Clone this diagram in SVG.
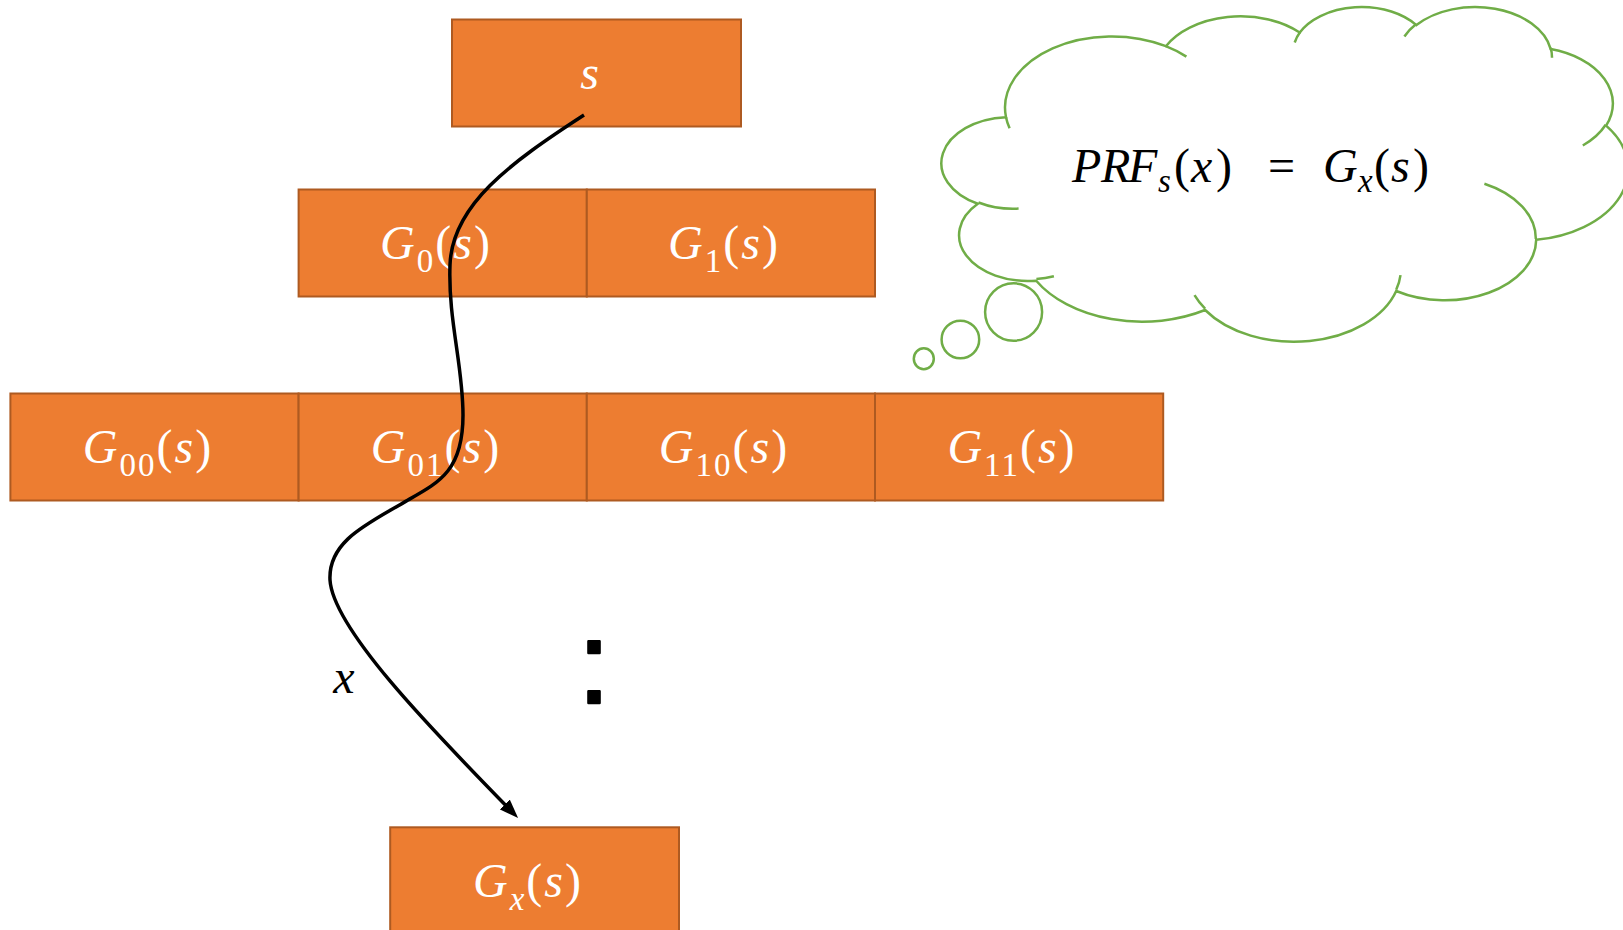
<svg xmlns="http://www.w3.org/2000/svg" width="1623" height="930" viewBox="0 0 1623 930">
  <style>
    .box { fill: #ED7D31; stroke: #AE5A21; stroke-width: 2; }
    .lbl { font-family: "Liberation Serif", serif; font-size: 48px; fill: #FFFFFF; text-anchor: middle; letter-spacing: 2px; }
    .eq { font-family: "Liberation Serif", serif; font-size: 48px; fill: #000000; }
    .it { font-style: italic; }
    .sub { font-size: 33px; }
    .cloud { fill: #FFFFFF; stroke: #70AD47; stroke-width: 2.5; }
    .wrinkle { fill: none; stroke: #70AD47; stroke-width: 2.5; }
    .flow { fill: none; stroke: #000000; stroke-width: 3.5; }
  </style>
  <defs>
    <marker id="arrow" markerUnits="userSpaceOnUse" markerWidth="19" markerHeight="14" refX="10" refY="7" orient="auto">
      <path d="M0,0 L19,7 L0,14 Z" fill="#000000"/>
    </marker>
  </defs>

  <!-- seed -->
  <g id="n-s">
    <rect class="box" x="452" y="19.5" width="289" height="107"/>
    <text class="lbl it" x="590.5" y="89">s</text>
  </g>

  <!-- first level -->
  <g id="n-g0">
    <rect class="box" x="298.6" y="189.5" width="288.2" height="107"/>
    <text class="lbl" x="436" y="259"><tspan class="it">G</tspan><tspan class="sub" dy="13">0</tspan><tspan dy="-13">(</tspan><tspan class="it">s</tspan>)</text>
  </g>
  <g id="n-g1">
    <rect class="box" x="586.8" y="189.5" width="288.2" height="107"/>
    <text class="lbl" x="724" y="259"><tspan class="it">G</tspan><tspan class="sub" dy="13">1</tspan><tspan dy="-13">(</tspan><tspan class="it">s</tspan>)</text>
  </g>

  <!-- second level -->
  <g id="n-g00">
    <rect class="box" x="10.4" y="393.5" width="288.2" height="107"/>
    <text class="lbl" x="148" y="463"><tspan class="it">G</tspan><tspan class="sub" dy="13">00</tspan><tspan dy="-13">(</tspan><tspan class="it">s</tspan>)</text>
  </g>
  <g id="n-g01">
    <rect class="box" x="298.6" y="393.5" width="288.2" height="107"/>
    <text class="lbl" x="436" y="463"><tspan class="it">G</tspan><tspan class="sub" dy="13">01</tspan><tspan dy="-13">(</tspan><tspan class="it">s</tspan>)</text>
  </g>
  <g id="n-g10">
    <rect class="box" x="586.8" y="393.5" width="288.2" height="107"/>
    <text class="lbl" x="724" y="463"><tspan class="it">G</tspan><tspan class="sub" dy="13">10</tspan><tspan dy="-13">(</tspan><tspan class="it">s</tspan>)</text>
  </g>
  <g id="n-g11">
    <rect class="box" x="875" y="393.5" width="288.2" height="107"/>
    <text class="lbl" x="1012" y="463"><tspan class="it">G</tspan><tspan class="sub" dy="13">11</tspan><tspan dy="-13">(</tspan><tspan class="it">s</tspan>)</text>
  </g>

  <!-- leaf -->
  <g id="n-gx">
    <rect class="box" x="390.2" y="827.3" width="288.8" height="107"/>
    <text class="lbl" x="528" y="897"><tspan class="it">G</tspan><tspan class="sub it" dy="13">x</tspan><tspan dy="-13">(</tspan><tspan class="it">s</tspan>)</text>
  </g>

  <!-- vertical ellipsis -->
  <g id="ellipsis">
    <text x="594" y="703" font-family="Liberation Sans, Arial, sans-serif" font-size="117" text-anchor="middle" fill="#000000" stroke="#000000" stroke-width="2.5" stroke-linejoin="round">:</text>
  </g>

  <!-- path taken by the input bits -->
  <g id="connectors">
    <path class="flow" marker-end="url(#arrow)"
          d="M584,115 C510,163 452,205 450,265 C448,320 463,365 463,415 C463,470 440,482 408,500 C370,523 328,540 330,580 C333,628 428,726 511.8,811.6"/>
    <text class="eq it" x="344" y="693" text-anchor="middle">x</text>
  </g>

  <!-- thought bubble -->
  <g id="thought">
    <path class="cloud" d="M1006,117.2
      A106.86,71.18 0 0 1 1165.9,46.2
      A84.39,56.28 0 0 1 1299.7,32.5
      A69.07,46.04 0 0 1 1416.4,25.1
      A76.86,51.08 0 0 1 1550.7,49.1
      A84.39,56.33 0 0 1 1606.1,125.6
      A107.21,71.41 0 0 1 1536.2,239.8
      A91.54,60.93 0 0 1 1396.2,291
      A106.84,71.37 0 0 1 1205.1,310
      A122.16,81.66 0 0 1 1036.2,280.7
      A68.99,45.83 0 0 1 977.8,203.8
      A68.76,46.04 0 0 1 1006,117.2 Z"/>
    <path class="wrinkle" d="M1018.6,208.6 A68.76,46.04 0 0 1 978.5,202.5
      M1053.9,276.2 A68.99,45.83 0 0 1 1036.4,279.1
      M1205.1,308.7 A106.84,71.37 0 0 1 1194.5,295.2
      M1400.5,275.1 A106.84,71.37 0 0 1 1396.2,289.8
      M1484.4,183.7 A91.54,60.93 0 0 1 1535.8,238.9
      M1605.7,124.8 A84.39,56.33 0 0 1 1582.8,145.5
      M1550.7,47.9 A76.86,51.08 0 0 1 1552,57.7
      M1404.4,36.5 A76.86,51.08 0 0 1 1416.2,24
      M1294.7,42.5 A69.07,46.04 0 0 1 1300.3,31.7
      M1165.8,46.1 A106.86,71.18 0 0 1 1186.4,56.6
      M1009.6,128.2 A106.86,71.18 0 0 1 1006,117.2"/>
    <ellipse class="cloud" cx="1013.6" cy="312" rx="28.5" ry="28.7"/>
    <ellipse class="cloud" cx="960.4" cy="339.5" rx="18.8" ry="18.8"/>
    <ellipse class="cloud" cx="923.8" cy="358.8" rx="10" ry="10.5"/>
    <text class="eq" y="182"><tspan class="it" x="1072">P</tspan><tspan class="it" x="1101">R</tspan><tspan class="it" x="1128">F</tspan><tspan class="sub it" x="1158" dy="10">s</tspan><tspan x="1174" dy="-10">(</tspan><tspan class="it" x="1191">x</tspan><tspan x="1216">)</tspan><tspan x="1268">=</tspan><tspan class="it" x="1323">G</tspan><tspan class="sub it" x="1358" dy="10">x</tspan><tspan x="1374" dy="-10">(</tspan><tspan class="it" x="1391">s</tspan><tspan x="1413">)</tspan></text>
  </g>
</svg>
